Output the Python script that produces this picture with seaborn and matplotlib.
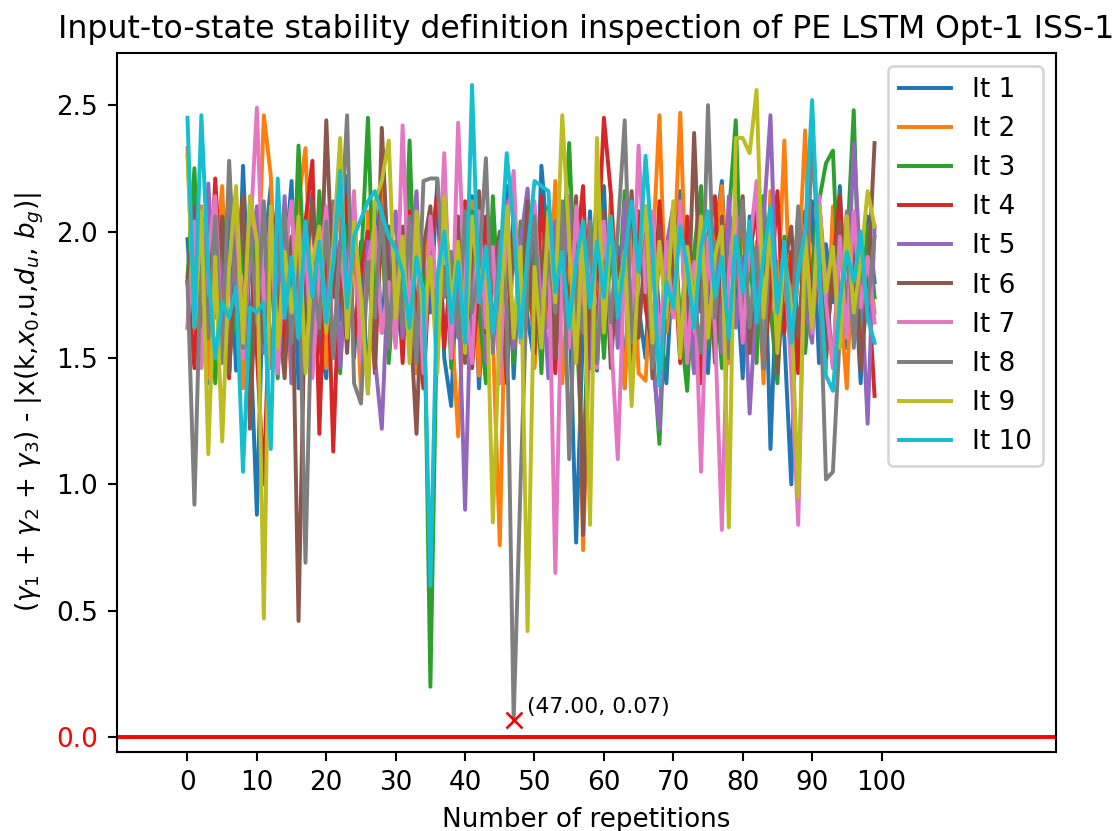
import numpy as np
import pandas as pd
import matplotlib
matplotlib.use("Agg")
import matplotlib.pyplot as plt
import seaborn as sns

labels = ["It 1", "It 2", "It 3", "It 4", "It 5", "It 6", "It 7", "It 8", "It 9", "It 10"]

it1 = [1.97,1.52,1.95,1.40,2.12,1.58,2.05,1.45,2.26,1.62,
       0.88,1.90,2.18,1.48,1.85,2.20,1.38,1.72,2.15,1.55,
       1.42,2.08,1.65,2.22,1.50,1.96,1.36,2.10,1.60,2.02,
       1.56,1.90,2.16,1.44,1.82,1.68,2.20,1.50,1.31,1.98,
       1.60,2.14,1.38,1.88,2.05,1.52,2.18,1.42,1.95,1.66,
       1.48,2.26,1.92,1.55,2.10,1.74,0.77,1.62,2.08,1.45,
       2.18,1.56,1.94,1.38,2.12,1.70,1.50,2.04,1.66,1.40,
       1.92,2.16,1.52,1.80,2.10,1.44,1.98,2.20,1.60,1.86,
       1.42,2.06,1.70,2.14,1.14,1.88,1.58,1.00,2.02,1.64,
       2.12,1.48,1.95,1.72,2.18,1.54,1.90,1.40,2.06,1.80]
it2 = [2.33,1.58,2.10,1.42,1.88,2.18,1.50,1.96,1.38,2.06,
       1.70,2.46,2.22,1.52,1.90,1.40,2.12,2.33,1.64,2.02,
       1.46,1.84,2.16,1.56,1.98,1.36,2.08,1.74,2.20,1.50,
       1.92,1.62,2.14,1.44,1.86,2.04,1.54,2.18,1.68,1.19,
       1.80,2.12,1.43,1.96,1.58,0.76,2.06,1.50,1.88,2.16,
       1.46,1.98,1.62,2.20,1.40,1.84,2.10,0.74,1.66,2.00,
       1.52,2.14,1.76,1.38,2.08,1.44,1.41,1.90,2.46,1.60,
       1.84,2.47,1.66,1.44,2.12,1.58,1.94,2.18,1.48,1.86,
       2.04,1.52,1.96,1.40,2.16,1.70,2.36,1.56,1.82,2.40,
       1.62,1.94,1.46,2.10,1.74,1.38,2.02,1.58,1.90,1.68]
it3 = [1.82,2.25,1.54,2.02,1.40,1.90,2.14,1.60,1.96,1.46,
       2.08,1.66,1.92,1.42,2.10,1.58,2.34,1.72,1.50,2.16,
       1.64,1.98,1.44,2.06,1.56,1.86,2.45,1.62,2.00,1.48,
       1.88,1.60,2.36,1.52,1.94,0.20,1.74,2.12,1.46,1.96,
       1.54,2.08,1.70,1.40,2.14,1.62,1.92,1.48,2.04,1.68,
       1.96,1.44,2.10,1.58,1.86,2.35,1.66,1.05,1.84,2.12,
       1.50,1.94,1.70,2.16,1.46,1.88,2.02,1.56,1.16,1.80,
       2.10,1.64,1.37,1.92,2.18,1.54,1.84,1.46,2.06,2.44,
       1.62,1.96,1.48,2.14,1.70,1.40,1.98,1.58,2.08,1.52,
       1.86,2.12,2.27,2.32,1.66,1.92,2.48,1.56,2.02,1.74]
it4 = [1.80,1.46,2.06,1.58,2.21,1.70,1.42,2.10,1.64,1.94,
       1.52,1.00,1.86,2.12,1.48,1.98,1.60,2.04,2.28,1.20,
       2.05,1.13,1.90,2.14,1.56,1.84,2.00,1.44,2.10,1.62,
       1.96,1.48,2.08,1.66,1.38,1.92,2.16,1.54,1.88,1.70,
       2.12,1.46,1.80,2.06,1.58,1.94,1.40,2.10,1.68,1.98,
       1.52,2.14,1.74,1.44,2.02,1.60,1.90,2.18,1.50,1.86,
       2.45,2.15,1.62,1.96,1.42,2.08,1.70,1.54,2.12,1.66,
       1.94,1.48,2.06,1.72,1.40,1.98,2.14,1.58,1.84,2.02,
       1.56,1.90,2.10,1.46,1.76,2.16,1.60,1.92,1.44,2.08,
       1.68,2.00,1.52,1.86,2.14,1.62,1.96,1.48,1.82,1.35]
it5 = [1.62,2.02,1.48,2.19,1.70,1.92,1.44,2.08,1.58,1.86,
       2.10,1.52,1.94,1.66,2.14,1.40,1.84,2.04,1.56,1.98,
       1.68,2.12,1.46,1.90,2.06,1.60,1.96,1.50,1.22,1.88,
       2.08,1.58,1.84,2.16,1.44,1.98,1.64,2.10,1.52,1.80,
       0.90,1.92,2.06,1.48,1.86,1.62,2.12,1.54,1.96,2.17,
       1.66,1.88,1.42,2.04,1.74,2.14,1.56,1.90,1.46,2.08,
       1.70,1.98,1.54,2.12,1.64,1.84,2.02,1.50,1.22,1.94,
       2.10,1.58,1.88,1.44,2.06,1.72,1.96,1.52,2.14,1.62,
       1.90,1.28,1.76,2.04,2.46,1.60,1.94,1.48,2.08,1.70,
       1.56,2.12,1.80,1.46,1.98,1.66,2.35,1.84,1.24,2.02]
it6 = [1.80,2.10,1.50,1.94,1.66,2.06,1.44,1.88,2.14,1.22,
       1.92,1.56,2.08,1.70,1.42,1.98,0.46,1.84,2.12,1.60,
       2.44,1.74,1.96,1.52,2.04,1.64,1.90,1.46,2.41,1.82,
       1.58,2.02,1.70,1.20,1.94,2.10,1.54,1.86,1.62,2.06,
       1.48,1.92,2.16,1.60,1.80,2.00,1.44,1.96,1.68,2.12,
       1.56,1.88,2.04,1.50,1.92,1.70,2.14,0.80,1.84,1.62,
       2.08,1.46,1.90,1.74,2.16,1.58,1.96,1.42,2.02,1.66,
       1.86,2.12,1.54,2.39,1.68,1.98,1.48,2.06,1.60,1.88,
       2.14,1.52,1.94,1.70,2.08,1.44,1.86,2.02,1.58,1.96,
       1.64,2.10,1.50,1.88,2.04,1.62,1.92,1.45,1.78,2.35]
it7 = [1.62,2.04,1.46,1.92,2.14,1.56,1.86,2.08,1.50,1.96,
       2.49,1.70,2.06,1.44,1.90,2.12,1.58,1.98,1.42,1.84,
       2.10,1.52,1.94,1.68,2.16,1.48,1.88,2.02,1.60,1.80,
       1.54,2.42,1.66,1.96,1.44,2.06,1.72,2.31,1.50,2.43,
       1.74,1.48,2.08,1.62,1.94,1.40,2.02,2.24,1.56,1.90,
       2.12,1.64,1.98,0.65,1.86,1.54,2.10,1.70,1.92,1.46,
       2.04,1.60,1.10,1.90,1.58,2.34,1.76,2.08,1.52,1.96,
       1.66,2.12,1.48,1.88,1.05,1.98,1.62,0.82,1.84,2.10,
       1.56,1.94,2.20,1.50,2.06,1.68,1.92,1.44,0.84,2.02,
       1.60,2.14,1.72,1.46,1.98,1.58,2.08,1.70,1.90,1.64]
it8 = [1.80,0.92,1.96,1.58,2.06,1.48,2.28,1.72,1.54,2.02,
       1.64,2.12,1.46,1.90,2.08,1.56,1.98,0.69,1.86,1.62,
       2.04,1.50,1.94,2.46,1.40,1.32,1.88,1.66,2.10,1.54,
       1.96,1.62,2.06,1.48,2.20,2.21,2.21,1.74,1.92,1.58,
       2.08,1.68,1.86,2.29,1.52,1.96,1.70,0.07,1.01,1.84,
       2.06,1.56,1.92,1.68,2.12,1.10,1.86,1.60,2.04,1.48,
       1.88,1.64,2.00,2.44,1.56,1.82,2.10,1.46,1.94,1.70,
       2.08,1.58,1.90,1.74,1.52,2.50,1.66,1.98,1.50,1.86,
       2.12,1.62,1.94,1.46,2.04,1.72,1.88,1.56,2.10,1.68,
       2.36,1.90,1.02,1.05,1.60,2.08,1.54,1.92,1.70,1.98]
it9 = [2.30,1.62,2.08,1.12,1.90,1.17,1.86,2.18,1.56,2.14,
       1.96,0.47,2.10,1.54,1.92,1.68,2.06,1.44,1.88,2.02,
       1.60,1.94,2.37,1.58,2.04,1.74,1.36,2.12,2.20,2.36,
       1.66,1.98,1.48,2.08,1.62,1.90,1.44,2.14,1.70,1.96,
       1.52,2.06,1.78,1.92,0.85,1.64,2.10,1.58,1.94,0.42,
       1.86,1.54,2.08,1.72,2.46,1.96,1.48,2.04,0.84,2.37,
       1.60,2.02,1.74,1.92,1.31,1.88,2.10,1.56,1.96,1.66,
       2.12,1.50,1.94,1.70,2.06,1.58,1.90,2.02,0.83,2.37,
       2.37,2.31,2.56,1.66,2.04,1.52,1.92,1.70,0.95,1.98,
       1.62,2.10,1.76,1.94,1.54,2.06,1.68,1.88,2.16,2.02]
it10 = [2.45,1.62,2.46,1.83,1.50,1.72,1.66,1.78,1.05,1.70,
        1.68,1.72,1.14,2.21,1.66,1.90,1.58,2.04,1.74,1.96,
        1.64,1.88,2.24,1.70,1.98,2.05,2.12,2.16,2.07,1.98,
        1.93,1.84,1.62,1.90,1.76,0.60,1.82,2.00,1.64,1.88,
        1.56,2.58,1.72,1.94,1.60,1.86,2.31,2.02,1.58,1.92,
        2.20,2.18,2.16,1.76,1.92,1.62,1.88,2.04,1.70,1.96,
        1.74,2.06,1.66,1.90,2.12,1.84,2.30,1.92,1.39,1.80,
        1.70,2.02,1.86,1.62,1.94,2.08,1.74,1.90,1.58,1.98,
        1.76,2.04,1.64,1.90,2.10,1.68,1.96,1.56,1.84,2.00,
        2.52,1.86,1.43,1.37,1.72,1.92,1.80,2.00,1.66,1.56]

series = [it1, it2, it3, it4, it5, it6, it7, it8, it9, it10]
min_point = (47, 0.07)
x_ticks = list(range(0, 101, 10))
y_ticks = [0.0, 0.5, 1.0, 1.5, 2.0, 2.5]

rows = []
for lab, vals in zip(labels, series):
    for i, v in enumerate(vals):
        rows.append({"rep": i, "val": v, "it": lab})
df = pd.DataFrame(rows)

W, H, DPI = 1118, 831, 189
fig = plt.figure(figsize=(W / DPI, H / DPI), dpi=DPI)
ax = fig.add_axes([116.7 / W, 1 - 751.7 / H, (1055.7 - 116.7) / W, (751.7 - 53.3) / H])

palette = sns.color_palette("tab10", 10)
for k, lab in enumerate(labels):
    sub = df[df["it"] == lab]
    sns.lineplot(data=sub, x="rep", y="val", ax=ax, color=palette[k], label=lab,
                 linewidth=1.5, estimator=None)

ax.axhline(0, color="red", linewidth=1.5)
ax.plot([min_point[0]], [min_point[1]], "rx", markersize=6)
ax.annotate(f"({min_point[0]:.2f}, {min_point[1]:.2f})", xy=min_point,
            xytext=(5, 1), textcoords="offset points", fontsize=8.33, va="bottom")

ax.set_xlim(-10.2, 125.1)
ax.set_ylim(-0.057, 2.705)
ax.set_xticks(x_ticks)
ax.set_yticks(y_ticks)
ax.get_yticklabels()[0].set_color("red")

ax.set_title("Input-to-state stability definition inspection of PE LSTM Opt-1 ISS-1")
ax.set_xlabel("Number of repetitions")
ax.set_ylabel(r"($\gamma_1$ + $\gamma_2$ + $\gamma_3$) - |x(k,$x_0$,u,$d_u$, $b_g$)|")
ax.legend(loc="upper right")

fig.savefig("out.png", dpi=DPI)
